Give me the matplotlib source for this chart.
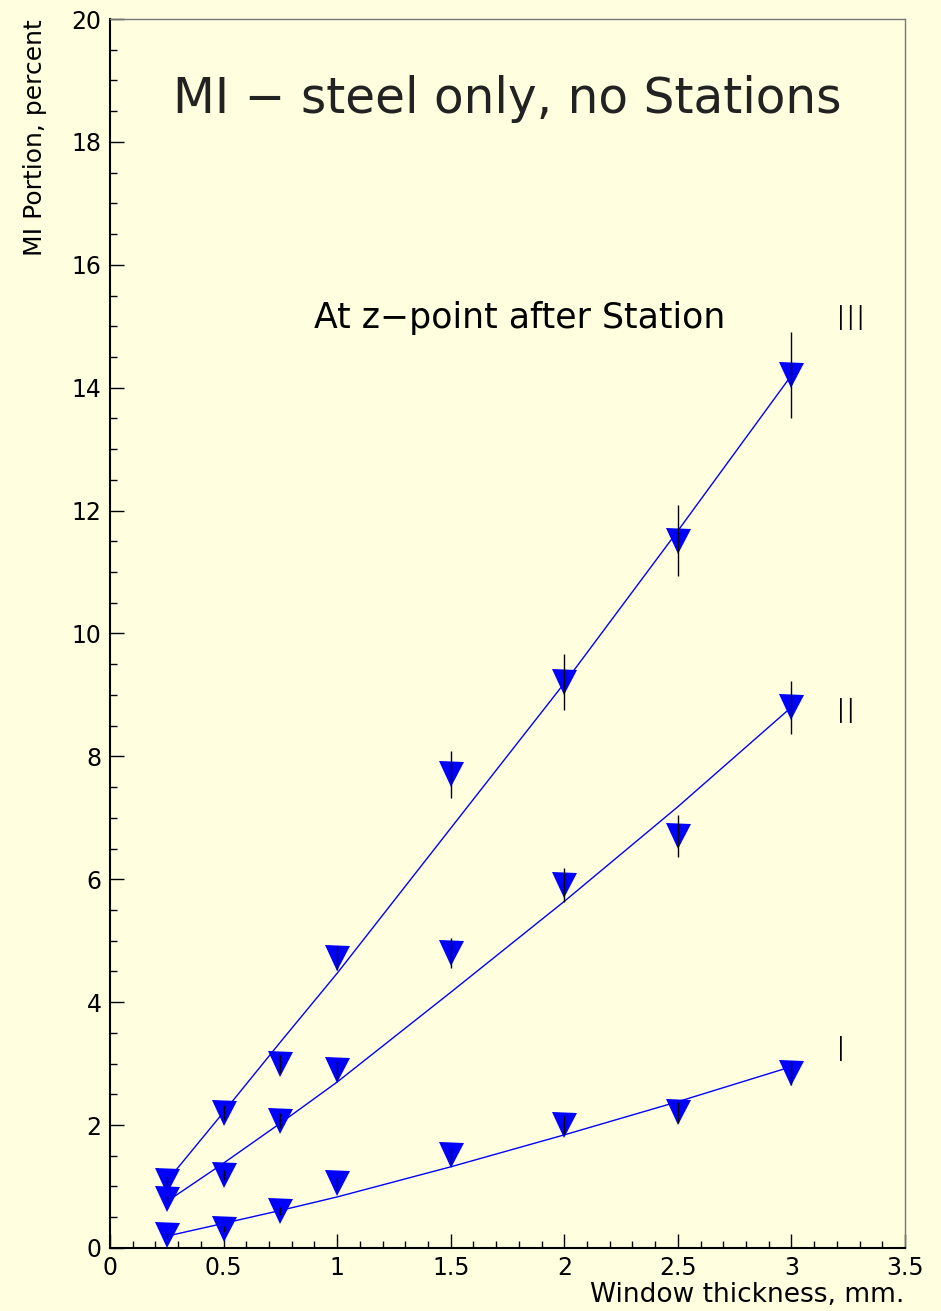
import numpy as np
import matplotlib
matplotlib.use("Agg")
import matplotlib.pyplot as plt
from matplotlib.ticker import MultipleLocator

# window thickness, mm
thickness = [0.25, 0.5, 0.75, 1.0, 1.5, 2.0, 2.5, 3.0]

# MI portion (percent) at three stations
mi_III = [1.09, 2.20, 2.99, 4.72, 7.71, 9.21, 11.51, 14.21]
err_III = [0.08, 0.12, 0.15, 0.20, 0.38, 0.46, 0.58, 0.70]
mi_II = [0.80, 1.19, 2.07, 2.89, 4.80, 5.91, 6.70, 8.80]
err_II = [0.06, 0.08, 0.12, 0.15, 0.24, 0.28, 0.34, 0.43]
mi_I = [0.21, 0.31, 0.60, 1.05, 1.51, 2.00, 2.21, 2.85]
err_I = [0.03, 0.05, 0.07, 0.10, 0.12, 0.15, 0.17, 0.20]

# fitted curves
fit_x = [0.26, 0.5, 0.75, 1.0, 1.5, 2.0, 2.5, 3.0]
fit_III = [1.13, 2.21, 3.35, 4.47, 6.83, 9.19, 11.67, 14.20]
fit_II = [0.78, 1.38, 2.03, 2.70, 4.16, 5.64, 7.18, 8.80]
fit_I = [0.20, 0.40, 0.61, 0.83, 1.32, 1.84, 2.38, 2.95]

labels = ["III", "II", "I"]
label_pos = [(3.26, 15.1), (3.24, 8.7), (3.22, 3.2)]

bg = "#FFFFE0"
fig = plt.figure(figsize=(9.41, 13.11), dpi=100, facecolor=bg)
ax = fig.add_axes([0.1169, 0.0481, 0.8448, 0.9374], facecolor=bg)

for fy in (fit_III, fit_II, fit_I):
    ax.plot(fit_x, fy, color="#0000FF", lw=1, zorder=2)

for y, e in ((mi_III, err_III), (mi_II, err_II), (mi_I, err_I)):
    ax.plot(thickness, y, linestyle="none", marker="v", ms=18,
            color="#0000FF", markeredgewidth=0, zorder=3)
    ax.errorbar(thickness, y, yerr=e, fmt="none", ecolor="black",
                elinewidth=1, capsize=0, zorder=4)

for txt, (lx, ly) in zip(labels, label_pos):
    ax.text(lx, ly, txt, fontsize=24, ha="center", va="center", fontweight="light")

ax.text(0.5, 0.935, "MI \u2212 steel only, no Stations", transform=ax.transAxes,
        fontsize=35, ha="center", va="center", color="#222222")
ax.text(0.515, 0.757, "At z\u2212point after Station", transform=ax.transAxes,
        fontsize=25, ha="center", va="center")

ax.set_xlim(0, 3.5)
ax.set_ylim(0, 20)
ax.xaxis.set_major_locator(MultipleLocator(0.5))
ax.xaxis.set_minor_locator(MultipleLocator(0.1))
ax.yaxis.set_major_locator(MultipleLocator(2))
ax.yaxis.set_minor_locator(MultipleLocator(0.5))
ax.set_xticks(np.arange(0, 3.51, 0.5))
ax.set_xticklabels(["0", "0.5", "1", "1.5", "2", "2.5", "3", "3.5"])
ax.tick_params(which="both", direction="in", top=False, right=False,
               labelsize=17, width=1)
ax.tick_params(which="major", length=10, pad=6)
ax.tick_params(which="minor", length=5)

for s in ("left", "bottom"):
    ax.spines[s].set_linewidth(1.5)
    ax.spines[s].set_color("black")
for s in ("top", "right"):
    ax.spines[s].set_linewidth(1)
    ax.spines[s].set_color("#777777")

fig.text(0.037, 0.985, "MI Portion, percent", rotation=90, fontsize=18,
         ha="center", va="top")
fig.text(0.961, 0.002, "Window thickness, mm.", fontsize=19, ha="right", va="bottom")

fig.savefig("out.png", dpi=100, facecolor=bg)
